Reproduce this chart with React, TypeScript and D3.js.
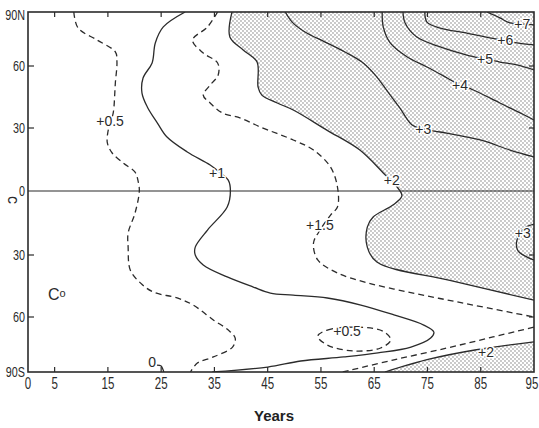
import * as d3 from "d3";

// axis ticks
const YEAR_TICKS = [0, 5, 15, 25, 35, 45, 55, 65, 75, 85, 95];
const LAT_TICKS = [90, 60, 30, 0, -30, -60, -90];
const LAT_LABELS = ["90N", "60", "30", "0", "30", "60", "90S"];

// contour lines, [year, latitude]
const c05West = [[8.6, 90], [9.4, 81.1], [13.0, 74.4], [16.4, 67.8], [16.7, 62.2], [16.4, 51.8], [16.0, 37.3], [15.5, 33], [15.0, 28.1], [14.9, 22.9], [15.8, 18.1], [17.9, 13.3], [20.1, 9.0], [20.7, 4.3], [20.9, 0], [20.1, -10.3], [18.8, -19.7], [18.8, -26.3], [19.2, -37.3], [21.1, -43.5], [23.5, -47.9], [28.0, -50.8], [31.0, -54.2], [34.8, -61.6], [37.6, -67.1], [38.9, -71.5], [38.4, -76.4], [34.8, -81.8], [31.8, -85.1], [30.5, -90]];
const c05Loop = [[54.4, -70.5], [56.2, -67.1], [62.5, -65.6], [66.8, -68.0], [68.1, -72.5], [66.2, -76.9], [61.1, -78.5], [56.2, -75.3]];
const c1 = [[29.5, 90], [25.4, 81.7], [23.9, 72.8], [23.3, 61.7], [21.6, 54.2], [21.4, 46.9], [22.4, 40.2], [24.3, 32.4], [26.1, 25.7], [29.9, 18.6], [34.2, 12.4], [36.2, 8.5], [37.6, 5.2], [38.0, 0], [37.4, -7.5], [33.7, -18.3], [31.4, -26.3], [31.4, -30], [32.9, -34.8], [37.4, -40.6], [42.3, -45.5], [45.5, -48.4], [49.8, -49.4], [56.2, -50.8], [62.5, -54.2], [68.7, -59.0], [74.3, -64.4], [76.2, -68.2], [75.6, -71.5], [71.9, -76.4], [65.7, -79.6], [59.3, -81.8], [51.2, -84.0], [45.0, -87.3], [34.6, -90]];
const c15North = [[35.6, 90], [33.7, 81.7], [30.9, 74.4], [32.9, 67.2], [35.6, 61.7], [35.7, 55.6], [34.2, 50.8], [32.9, 45.9], [34.2, 42.1], [36.5, 37.3], [39.9, 34.8], [43.6, 30.5], [49.8, 24.3], [53.6, 19.5], [56.8, 11.4], [58.1, 1.9], [58.1, -7.5], [56.8, -11.3], [54.6, -19.2], [53.6, -24.4], [54.4, -32.4], [58.1, -38.7], [63.8, -43.5], [71.3, -47.9], [78.8, -51.8], [86.3, -55.6], [95, -60]];
const c15South = [[59.1, -90], [68.5, -83.5], [78.7, -76.9], [87.3, -70.9], [95, -65.5]];
const c2North = [[38.3, 90], [37.9, 76.1], [40.4, 68.9], [43.0, 62.2], [43.2, 49.8], [43.9, 45.9], [46.8, 42.1], [49.8, 38.7], [56.1, 29.0], [62.3, 19.5], [66.7, 8.6], [69.3, 1.9], [70.2, -2.3], [68.5, -6.6], [64.8, -12.2], [63.7, -16.9], [63.7, -26.3], [65.5, -33.4], [79.2, -42.3], [95, -51.8]];
const c2South = [[67.0, -90], [75.5, -82.9], [83.9, -78.0], [95, -73.6]];
const c3North = [[48.3, 90], [49.6, 84.4], [52.0, 78.9], [55.8, 73.3], [59.5, 67.8], [62.7, 62.2], [65.2, 55.6], [67.6, 47.4], [69.8, 39.7], [72.1, 31.5], [74.2, 29.5], [77.4, 28.1], [84.9, 24.3], [90.5, 19.5], [95, 16.2]];
const c3East = [[95, -15.5], [93.3, -17.3], [91.8, -23.0], [92.0, -28.1], [93.7, -31.0], [95, -32.4]];
const c4 = [[66.5, 90], [66.7, 81.7], [68.0, 72.8], [71.2, 65.0], [74.9, 59.5], [78.7, 54.2], [81.1, 50.8], [83.6, 48.4], [88.6, 42.1], [92.4, 37.3], [95, 33.9]];
const c5 = [[70.4, 90], [70.8, 83.9], [73.0, 76.1], [77.4, 70.6], [82.4, 66.1], [85.8, 63.9], [88.6, 62.2], [91.8, 60.6], [95, 58.1]];
const c6 = [[74.5, 90], [74.9, 84.4], [77.4, 81.1], [82.4, 78.3], [86.7, 75.6], [89.2, 74.4], [91.8, 72.8], [95, 71.7]];
const c7 = [[86.2, 90], [88.6, 86.7], [90.5, 83.9], [93.0, 83.3], [95, 82.8]];
const c0 = [[24.2, -86.2], [25.0, -86.7], [25.3, -88.4], [25.5, -90]];

// contour labels [year, latitude, text]
const CONTOUR_LABELS: [number, number, string][] = [
    [15.4, 33.4, "+0.5"], [35.5, 8.6, "+1"], [54.8, -15.9, "+1.5"], [68.3, 5.2, "+2"],
    [74.2, 29.5, "+3"], [81.1, 50.8, "+4"], [85.8, 63.9, "+5"], [89.6, 74.4, "+6"],
    [92.8, 83.3, "+7"], [92.9, -19.7, "+3"], [59.9, -67.6, "+0.5"], [86.0, -79.1, "+2"],
    [23.3, -84.6, "0"],
];

const SANS = "'Liberation Sans', Arial, sans-serif";

export default function App() {
    const width = 539;
    const height = 428;
    const ink = "#2b2b2b";

    const x = d3.scaleLinear().domain([0, 95]).range([28, 534]);
    const y = d3.scaleLinear().domain(LAT_TICKS).range([12, 66, 128, 191, 255, 317, 372]);

    const line = d3.line<number[]>()
        .x(d => x(d[0]))
        .y(d => y(d[1]))
        .curve(d3.curveCatmullRom.alpha(0.5));
    const loop = d3.line<number[]>()
        .x(d => x(d[0]))
        .y(d => y(d[1]))
        .curve(d3.curveCatmullRomClosed.alpha(0.5));

    const solid = [c1, c2North, c2South, c3North, c3East, c4, c5, c6, c7, c0];
    const dashed = [c05West, c15North, c15South];

    // stippled areas (above +2)
    const stipNorth = line(c2North) + `L${x(95)},${y(90)}Z`;
    const stipSouth = line(c2South) + `L${x(95)},${y(-90)}Z`;

    const innerTicks = YEAR_TICKS.filter(t => t > 0 && t < 95);
    const sideTicks = LAT_TICKS.filter(t => Math.abs(t) === 30 || Math.abs(t) === 60);

    return (
        <svg width={width} height={height} style={{ position: "absolute", left: 0, top: 0, background: "#fff" }}>
            <defs>
                <pattern id="dots" width="4" height="4" patternUnits="userSpaceOnUse">
                    <circle cx="1" cy="1" r="0.65" fill="#666" />
                    <circle cx="3" cy="3" r="0.65" fill="#666" />
                </pattern>
                <clipPath id="plot">
                    <rect x={x(0)} y={y(90)} width={x(95) - x(0)} height={y(-90) - y(90)} />
                </clipPath>
            </defs>

            <g clipPath="url(#plot)">
                <path d={stipNorth} fill="url(#dots)" />
                <path d={stipSouth} fill="url(#dots)" />
                <line x1={x(0)} x2={x(95)} y1={y(0)} y2={y(0)} stroke={ink} strokeWidth={1.1} />
                {solid.map((c, i) => (
                    <path key={"s" + i} d={line(c) || ""} fill="none" stroke={ink} strokeWidth={1.3} />
                ))}
                {dashed.map((c, i) => (
                    <path key={"d" + i} d={line(c) || ""} fill="none" stroke={ink} strokeWidth={1.3} strokeDasharray="6,4" />
                ))}
                <path d={loop(c05Loop) || ""} fill="none" stroke={ink} strokeWidth={1.3} strokeDasharray="6,4" />
            </g>

            {/* frame and ticks */}
            <rect x={x(0)} y={y(90)} width={x(95) - x(0)} height={y(-90) - y(90)} fill="none" stroke={ink} strokeWidth={1.6} />
            {innerTicks.map(t => (
                <g key={"xt" + t}>
                    <line x1={x(t)} x2={x(t)} y1={y(-90)} y2={y(-90) - 5} stroke={ink} strokeWidth={1.2} />
                    <line x1={x(t)} x2={x(t)} y1={y(90)} y2={y(90) + 5} stroke={ink} strokeWidth={1.2} />
                </g>
            ))}
            {sideTicks.map(t => (
                <g key={"yt" + t}>
                    <line x1={x(0)} x2={x(0) + 6} y1={y(t)} y2={y(t)} stroke={ink} strokeWidth={1.2} />
                    <line x1={x(95)} x2={x(95) - 5} y1={y(t)} y2={y(t)} stroke={ink} strokeWidth={1.2} />
                </g>
            ))}

            {/* tick labels, condensed */}
            {YEAR_TICKS.map(t => (
                <text key={"xl" + t} transform={`translate(${Math.min(x(t), 532)},389) scale(0.68,1)`} textAnchor="middle"
                    fontFamily={SANS} fontSize={17} fill={ink}>{t}</text>
            ))}
            {LAT_TICKS.map((t, i) => (
                <text key={"yl" + t} transform={`translate(25,${Math.max(y(t), 15)}) scale(0.72,1)`} dy="0.35em" textAnchor="end"
                    fontFamily={SANS} fontSize={15} fill={ink}>{LAT_LABELS[i]}</text>
            ))}

            {/* contour labels */}
            {CONTOUR_LABELS.map(([yr, lat, s], i) => (
                <text key={"cl" + i} x={x(yr)} y={y(lat)} dy="0.35em" textAnchor="middle" fontFamily={SANS} fontSize={14}
                    fill={ink} stroke="#fff" strokeWidth={3} paintOrder="stroke" strokeLinejoin="round">{s}</text>
            ))}

            {/* hand annotations */}
            <text x={x(5.4)} y={y(-48.9)} dy="0.35em" textAnchor="middle" fontFamily={SANS} fontSize={16} fill={ink}>
                C<tspan fontSize={11} dy="-3">o</tspan>
            </text>
            <text x={13} y={204} textAnchor="middle" fontFamily={SANS} fontSize={16} fill={ink} transform="rotate(-90 13 200)">ɔ</text>

            <text x={274} y={421} textAnchor="middle" fontFamily={SANS} fontWeight="bold" fontSize={15} fill="#222">Years</text>
        </svg>
    );
}
